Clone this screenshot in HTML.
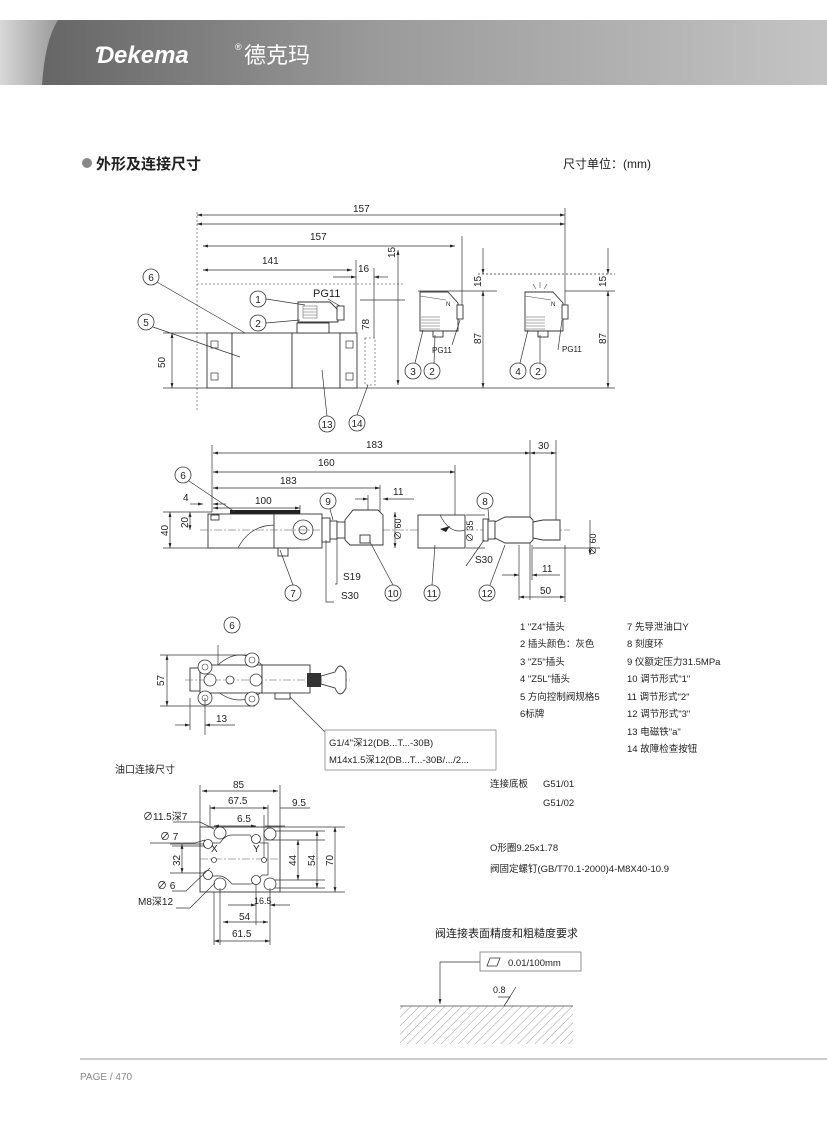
<!DOCTYPE html>
<html><head><meta charset="utf-8">
<style>
html,body{margin:0;padding:0;background:#fff;}
svg{display:block;}
text{font-family:"Liberation Sans","Noto Sans CJK SC",sans-serif;fill:#222;}
.d{stroke:#333;stroke-width:0.7;fill:none;}
.t{stroke:#222;stroke-width:1;fill:none;}
.f{stroke:#333;stroke-width:0.9;fill:#fff;}
.dash{stroke:#777;stroke-width:0.8;fill:none;stroke-dasharray:2,2;}
.c{stroke:#333;stroke-width:0.8;fill:#fff;}
</style></head><body>
<svg width="827" height="1122" viewBox="0 0 827 1122" xmlns="http://www.w3.org/2000/svg">
<defs>
<linearGradient id="hg" x1="0" x2="1" y1="0" y2="0">
<stop offset="0" stop-color="#5f5f5f"/><stop offset="0.45" stop-color="#9a9a9a"/><stop offset="1" stop-color="#c4c4c4"/>
</linearGradient>
<linearGradient id="hl" x1="0" x2="1"><stop offset="0" stop-color="#d8d8d8"/><stop offset="1" stop-color="#9a9a9a"/></linearGradient>
<marker id="a" viewBox="0 0 10 10" refX="10" refY="5" markerWidth="7" markerHeight="7" orient="auto-start-reverse"><path d="M0,2 L10,5 L0,8 z" fill="#222"/></marker>
<pattern id="hatch" width="6" height="6" patternUnits="userSpaceOnUse" patternTransform="rotate(45)"><line x1="0" y1="0" x2="0" y2="6" stroke="#555" stroke-width="0.6"/></pattern>
</defs>

<!-- header -->
<rect x="0" y="20" width="827" height="65" fill="url(#hg)"/>
<path d="M0,20 L58,20 Q45,40 42,85 L0,85 Z" fill="url(#hl)"/>
<text x="95" y="63" font-size="24" font-style="italic" font-weight="bold" fill="#fff" style="fill:#fff">Ɗekema</text>
<text x="235" y="50" font-size="9" style="fill:#fff">®</text>
<text x="244" y="63" font-size="22" style="fill:#fff">德克玛</text>

<!-- title -->
<circle cx="87" cy="163" r="5" fill="#888"/>
<text x="96" y="169" font-size="15" font-weight="bold">外形及连接尺寸</text>
<text x="563" y="168" font-size="12">尺寸单位：(mm)</text>

<!-- ===== top view ===== -->
<g font-size="10">
<line class="dash" x1="197" y1="212" x2="197" y2="410"/>
<line class="d" x1="197" y1="215" x2="565" y2="215" marker-start="url(#a)" marker-end="url(#a)"/>
<line class="d" x1="197" y1="224" x2="565" y2="224" marker-start="url(#a)" marker-end="url(#a)"/>
<text x="353" y="212">157</text>
<line class="d" x1="565" y1="208" x2="565" y2="310"/>
<line class="d" x1="203" y1="246" x2="455" y2="246" marker-start="url(#a)" marker-end="url(#a)"/>
<text x="310" y="240">157</text>
<line class="d" x1="462" y1="236" x2="462" y2="310"/>
<line class="d" x1="203" y1="270" x2="352" y2="270" marker-start="url(#a)" marker-end="url(#a)"/>
<text x="262" y="264">141</text>
<line class="d" x1="356" y1="260" x2="356" y2="340"/>
<line class="d" x1="374" y1="268" x2="374" y2="338"/>
<line class="d" x1="333" y1="277" x2="356" y2="277" marker-end="url(#a)"/>
<line class="d" x1="388" y1="277" x2="374" y2="277" marker-end="url(#a)"/>
<text x="358" y="272">16</text>
<line class="dash" x1="197" y1="284" x2="405" y2="284"/>
<line class="d" x1="360" y1="300" x2="405" y2="300"/>
<line class="d" x1="398" y1="250" x2="398" y2="385" marker-start="url(#a)" marker-end="url(#a)"/>
<text x="0" y="0" transform="translate(395,258) rotate(-90)">15</text>
<text x="0" y="0" transform="translate(369,330) rotate(-90)">78</text>
<!-- base line -->
<line class="d" x1="163" y1="388" x2="615" y2="388"/>
<!-- valve body -->
<rect class="f" x="207" y="333" width="25" height="55"/>
<rect x="211" y="341" width="7" height="7" class="d"/><rect x="211" y="373" width="7" height="7" class="d"/>
<rect class="f" x="232" y="333" width="60" height="55"/>
<rect class="f" x="292" y="333" width="48" height="55"/>
<rect class="f" x="340" y="333" width="17" height="55"/>
<rect x="346" y="341" width="7" height="7" class="d"/><rect x="346" y="373" width="7" height="7" class="d"/>
<rect class="f" x="297" y="323" width="32" height="10"/>
<path class="f" d="M298,302 L330,302 L338,310 L338,322 L298,322 Z"/>
<rect x="303" y="306" width="14" height="12" fill="none" stroke="#555" stroke-width="0.5"/>
<line x1="303" y1="309" x2="317" y2="309" stroke="#555" stroke-width="0.5"/><line x1="303" y1="312" x2="317" y2="312" stroke="#555" stroke-width="0.5"/><line x1="303" y1="315" x2="317" y2="315" stroke="#555" stroke-width="0.5"/>
<rect class="f" x="337" y="306" width="7" height="14"/>
<text x="313" y="297" font-size="11">PG11</text>
<line class="d" x1="328" y1="299" x2="340" y2="306"/>
<rect class="dash" x="365" y="338" width="10" height="47"/>
<line class="d" x1="172" y1="333" x2="172" y2="388" marker-start="url(#a)" marker-end="url(#a)"/>
<line class="d" x1="163" y1="333" x2="207" y2="333"/>
<text x="0" y="0" transform="translate(165,368) rotate(-90)">50</text>
<!-- connector 3 -->
<path class="f" d="M420,292 L448,292 L458,303 L458,331 L420,331 Z"/>
<line x1="420" y1="296" x2="446" y2="300" stroke="#444" stroke-width="0.6"/>
<g stroke="#555" stroke-width="0.5"><line x1="421" y1="317" x2="440" y2="317"/><line x1="421" y1="320" x2="440" y2="320"/><line x1="421" y1="323" x2="440" y2="323"/><line x1="421" y1="326" x2="440" y2="326"/><line x1="421" y1="329" x2="440" y2="329"/></g>
<rect class="f" x="433" y="331" width="10" height="6"/>
<rect class="f" x="457" y="305" width="6" height="14"/>
<text x="446" y="306" font-size="6">N</text>
<text x="432" y="353" font-size="8">PG11</text>
<line class="d" x1="460" y1="320" x2="452" y2="345"/>
<line class="d" x1="418" y1="291" x2="497" y2="291"/>
<line class="d" x1="478" y1="274" x2="615" y2="274" stroke-dasharray="2,2"/>
<line class="d" x1="483" y1="248" x2="483" y2="274" marker-end="url(#a)"/>
<line class="d" x1="483" y1="291" x2="483" y2="388" marker-start="url(#a)" marker-end="url(#a)"/>
<text x="0" y="0" transform="translate(481,287) rotate(-90)">15</text>
<text x="0" y="0" transform="translate(481,344) rotate(-90)">87</text>
<!-- connector 4 -->
<path class="f" d="M525,292 L553,292 L563,303 L563,331 L525,331 Z"/>
<line x1="525" y1="296" x2="551" y2="300" stroke="#444" stroke-width="0.6"/>
<g stroke="#555" stroke-width="0.5"><line x1="526" y1="317" x2="545" y2="317"/><line x1="526" y1="320" x2="545" y2="320"/><line x1="526" y1="323" x2="545" y2="323"/><line x1="526" y1="326" x2="545" y2="326"/><line x1="526" y1="329" x2="545" y2="329"/></g>
<rect class="f" x="538" y="331" width="10" height="6"/>
<rect class="f" x="562" y="305" width="6" height="14"/>
<text x="551" y="306" font-size="6">N</text>
<path d="M536,289 l-3,-5 M540,288 l0,-6 M544,289 l3,-5" stroke="#555" stroke-width="0.6"/>
<text x="562" y="352" font-size="8">PG11</text>
<line class="d" x1="558" y1="350" x2="562" y2="320"/>
<line class="d" x1="565" y1="291" x2="615" y2="291"/>
<line class="d" x1="608" y1="248" x2="608" y2="274" marker-end="url(#a)"/>
<line class="d" x1="608" y1="291" x2="608" y2="388" marker-start="url(#a)" marker-end="url(#a)"/>
<text x="0" y="0" transform="translate(606,287) rotate(-90)">15</text>
<text x="0" y="0" transform="translate(606,344) rotate(-90)">87</text>
<!-- leaders -->
<line class="d" x1="157" y1="282" x2="245" y2="333"/>
<line class="d" x1="153" y1="327" x2="240" y2="357"/>
<line class="d" x1="266" y1="299" x2="305" y2="305"/>
<line class="d" x1="266" y1="323" x2="300" y2="320"/>
<line class="d" x1="327" y1="416" x2="322" y2="370"/>
<line class="d" x1="357" y1="415" x2="368" y2="385"/>
<line class="d" x1="415" y1="363" x2="423" y2="330"/>
<line class="d" x1="434" y1="363" x2="435" y2="335"/>
<line class="d" x1="520" y1="363" x2="528" y2="330"/>
<line class="d" x1="540" y1="363" x2="540" y2="335"/>
<g font-size="10" text-anchor="middle">
<circle class="c" cx="151" cy="277" r="8"/><text x="151" y="281">6</text>
<circle class="c" cx="146" cy="322" r="8"/><text x="146" y="326">5</text>
<circle class="c" cx="258" cy="299" r="8"/><text x="258" y="303">1</text>
<circle class="c" cx="258" cy="323" r="8"/><text x="258" y="327">2</text>
<circle class="c" cx="327" cy="424" r="8"/><text x="327" y="428">13</text>
<circle class="c" cx="357" cy="423" r="8"/><text x="357" y="427">14</text>
<circle class="c" cx="413" cy="371" r="8"/><text x="413" y="375">3</text>
<circle class="c" cx="432" cy="371" r="8"/><text x="432" y="375">2</text>
<circle class="c" cx="518" cy="371" r="8"/><text x="518" y="375">4</text>
<circle class="c" cx="538" cy="371" r="8"/><text x="538" y="375">2</text>
</g>
</g>

<!-- ===== side view ===== -->
<g font-size="10">
<line class="d" x1="212" y1="445" x2="212" y2="512"/>
<line class="d" x1="213" y1="453" x2="530" y2="453" marker-start="url(#a)" marker-end="url(#a)"/>
<text x="366" y="448">183</text>
<line class="d" x1="530" y1="440" x2="530" y2="600"/>
<line class="d" x1="556" y1="440" x2="556" y2="540"/>
<line class="d" x1="530" y1="453" x2="556" y2="453" marker-start="url(#a)" marker-end="url(#a)"/>
<text x="538" y="449">30</text>
<line class="d" x1="213" y1="472" x2="455" y2="472" marker-start="url(#a)" marker-end="url(#a)"/>
<text x="318" y="466">160</text>
<line class="d" x1="455" y1="465" x2="455" y2="515"/>
<line class="d" x1="213" y1="488" x2="380" y2="488" marker-start="url(#a)" marker-end="url(#a)"/>
<text x="280" y="484">183</text>
<line class="d" x1="380" y1="485" x2="380" y2="512"/>
<line class="d" x1="355" y1="499" x2="368" y2="499" marker-end="url(#a)"/>
<line class="d" x1="414" y1="499" x2="383" y2="499" marker-end="url(#a)"/>
<line class="d" x1="368" y1="495" x2="368" y2="512"/>
<text x="393" y="495">11</text>
<text x="183" y="501">4</text>
<line class="d" x1="190" y1="504" x2="203" y2="504" marker-end="url(#a)"/>
<line class="d" x1="226" y1="504" x2="213" y2="504" marker-end="url(#a)"/>
<line class="d" x1="213" y1="508" x2="300" y2="508" marker-start="url(#a)" marker-end="url(#a)"/>
<text x="255" y="504">100</text>
<line class="d" x1="300" y1="505" x2="300" y2="520"/>
<line class="d" x1="163" y1="512" x2="212" y2="512"/>
<line class="d" x1="163" y1="548" x2="212" y2="548"/>
<line class="d" x1="170" y1="512" x2="170" y2="548" marker-start="url(#a)" marker-end="url(#a)"/>
<text x="0" y="0" transform="translate(168,536) rotate(-90)">40</text>
<line class="d" x1="190" y1="512" x2="190" y2="530" marker-start="url(#a)" marker-end="url(#a)"/>
<text x="0" y="0" transform="translate(188,528) rotate(-90)">20</text>
<!-- body -->
<rect class="f" x="208" y="514" width="92" height="34"/>
<rect x="230" y="510" width="70" height="4" fill="#222"/>
<rect class="f" x="211" y="515" width="8" height="5"/>
<path class="d" d="M238,548 Q250,525 275,525"/>
<rect class="f" x="274" y="514" width="48" height="34"/>
<circle class="c" cx="303" cy="530" r="10"/><circle class="c" cx="303" cy="530" r="4"/>
<rect class="f" x="278" y="548" width="10" height="8"/>
<line x1="200" y1="530" x2="570" y2="530" stroke="#555" stroke-width="0.5" stroke-dasharray="8,2,2,2"/>
<rect class="f" x="322" y="518" width="8" height="24"/><rect class="f" x="330" y="521" width="7" height="18"/><rect class="f" x="337" y="522" width="8" height="16"/>
<path class="f" d="M345,520 L353,510 L378,510 L383,515 L383,545 L350,545 L345,540 Z"/>
<rect class="f" x="360" y="535" width="10" height="8"/>
<line class="d" x1="395" y1="512" x2="395" y2="548" marker-start="url(#a)" marker-end="url(#a)"/>
<text x="0" y="0" transform="translate(401,540) rotate(-90)" font-size="9">∅ 60</text>
<!-- 11 -->
<rect class="f" x="418" y="515" width="47" height="33"/>
<path class="d" d="M440,515 Q450,535 465,530"/>
<path d="M440,529 l10,-3 l-4,6 z" fill="#222"/>
<text x="0" y="0" transform="translate(473,542) rotate(-90)" font-size="9">∅ 35</text>
<line class="d" x1="466" y1="515" x2="485" y2="515"/><line class="d" x1="466" y1="548" x2="485" y2="548"/>
<!-- 12 -->
<rect class="f" x="483" y="519" width="5" height="22"/><rect class="f" x="488" y="521" width="7" height="18"/>
<path class="f" d="M495,522 L505,517 L530,517 L533,520 L533,540 L530,543 L505,543 L495,538 Z"/>
<path class="f" d="M533,522 L543,520 L560,520 L560,540 L543,540 L533,538 Z"/>
<line class="d" x1="533" y1="548" x2="600" y2="548"/>
<line class="d" x1="590" y1="520" x2="590" y2="555" marker-end="url(#a)"/>
<text x="0" y="0" transform="translate(596,555) rotate(-90)" font-size="9">∅ 60</text>
<line class="d" x1="519" y1="545" x2="519" y2="600"/>
<line class="d" x1="502" y1="575" x2="519" y2="575" marker-end="url(#a)"/>
<line class="d" x1="560" y1="575" x2="532" y2="575" marker-end="url(#a)"/>
<line class="d" x1="532" y1="545" x2="532" y2="580"/>
<text x="542" y="572">11</text>
<line class="d" x1="519" y1="597" x2="565" y2="597" marker-start="url(#a)" marker-end="url(#a)"/>
<line class="d" x1="565" y1="545" x2="565" y2="602"/>
<text x="540" y="594">50</text>
<text x="343" y="580">S19</text>
<text x="341" y="599">S30</text>
<text x="475" y="563">S30</text>
<polyline class="d" points="335,584 337,584 337,538"/>
<polyline class="d" points="334,602 326,602 326,540"/>
<polyline class="d" points="466,566 484,540"/>
<line class="d" x1="189" y1="481" x2="235" y2="512"/>
<line class="d" x1="293" y1="585" x2="280" y2="550"/>
<line class="d" x1="393" y1="585" x2="370" y2="542"/>
<line class="d" x1="432" y1="585" x2="435" y2="545"/>
<line class="d" x1="490" y1="585" x2="505" y2="545"/>
<line class="d" x1="330" y1="509" x2="333" y2="520"/>
<line class="d" x1="488" y1="509" x2="489" y2="520"/>
<g text-anchor="middle">
<circle class="c" cx="183" cy="475" r="8"/><text x="183" y="479">6</text>
<circle class="c" cx="328" cy="501" r="8"/><text x="328" y="505">9</text>
<circle class="c" cx="485" cy="501" r="8"/><text x="485" y="505">8</text>
<circle class="c" cx="293" cy="593" r="8"/><text x="293" y="597">7</text>
<circle class="c" cx="393" cy="593" r="8"/><text x="393" y="597">10</text>
<circle class="c" cx="432" cy="593" r="8"/><text x="432" y="597">11</text>
<circle class="c" cx="487" cy="593" r="8"/><text x="487" y="597">12</text>
</g>
</g>

<!-- ===== front view ===== -->
<g font-size="10">
<g text-anchor="middle"><circle class="c" cx="232" cy="625" r="8"/><text x="232" y="629">6</text></g>
<line class="d" x1="218" y1="645" x2="218" y2="670"/>
<line class="d" x1="160" y1="655" x2="255" y2="655"/>
<line class="d" x1="160" y1="706" x2="255" y2="706"/>
<line class="d" x1="167" y1="655" x2="167" y2="706" marker-start="url(#a)" marker-end="url(#a)"/>
<text x="0" y="0" transform="translate(164,686) rotate(-90)">57</text>
<path class="d" d="M218,665 Q240,645 262,665"/>
<path class="d" d="M218,692 Q240,708 262,692"/>
<rect class="f" x="190" y="668" width="10" height="23"/>
<rect class="f" x="200" y="665" width="62" height="28"/>
<rect class="f" x="262" y="665" width="48" height="28"/>
<rect class="f" x="275" y="693" width="15" height="6"/>
<line x1="185" y1="680" x2="350" y2="680" stroke="#555" stroke-width="0.5" stroke-dasharray="8,2,2,2"/>
<g class="c"><circle cx="205" cy="667" r="7"/><circle cx="252" cy="660" r="7"/><circle cx="205" cy="698" r="7"/><circle cx="252" cy="699" r="7"/><circle cx="210" cy="680" r="6"/><circle cx="230" cy="680" r="4"/><circle cx="256" cy="680" r="6"/></g>
<g fill="none" stroke="#444" stroke-width="0.6"><circle cx="205" cy="667" r="3"/><circle cx="252" cy="660" r="3"/><circle cx="205" cy="698" r="3"/><circle cx="252" cy="699" r="3"/></g>
<rect x="307" y="673" width="14" height="14" fill="#333"/>
<path class="f" d="M321,676 L335,672 Q340,660 346,672 L346,688 Q340,700 335,688 L321,684 Z"/>
<line class="d" x1="175" y1="725" x2="190" y2="725" marker-end="url(#a)"/>
<line class="d" x1="235" y1="725" x2="205" y2="725" marker-end="url(#a)"/>
<line class="d" x1="190" y1="698" x2="190" y2="730"/><line class="d" x1="205" y1="698" x2="205" y2="735"/>
<text x="216" y="722">13</text>
<line class="d" x1="290" y1="697" x2="325" y2="732"/>
<rect x="325" y="730" width="171" height="40" fill="#fff" stroke="#777" stroke-width="0.7"/>
<text x="329" y="746" font-size="9.5">G1/4"深12(DB...T...-30B)</text>
<text x="329" y="763" font-size="9.5">M14x1.5深12(DB...T...-30B/.../2...</text>
<text x="115" y="773" font-size="10">油口连接尺寸</text>
</g>

<!-- port plate -->
<g font-size="10">
<rect class="f" x="200" y="827" width="80" height="65"/>
<line class="d" x1="200" y1="785" x2="200" y2="827"/><line class="d" x1="280" y1="785" x2="280" y2="827"/>
<line class="d" x1="202" y1="791" x2="278" y2="791" marker-start="url(#a)" marker-end="url(#a)"/>
<text x="233" y="788">85</text>
<line class="d" x1="210" y1="808" x2="268" y2="808" marker-start="url(#a)" marker-end="url(#a)"/>
<line class="d" x1="210" y1="805" x2="210" y2="827"/><line class="d" x1="268" y1="805" x2="268" y2="832"/>
<text x="228" y="804">67.5</text>
<line class="d" x1="280" y1="808" x2="310" y2="808"/>
<text x="292" y="806">9.5</text>
<line class="d" x1="214" y1="826" x2="256" y2="826" marker-start="url(#a)" marker-end="url(#a)"/>
<line class="d" x1="265" y1="826" x2="285" y2="826"/>
<line class="d" x1="264" y1="815" x2="264" y2="860"/>
<text x="237" y="822">6.5</text>
<line class="d" x1="280" y1="827" x2="345" y2="827"/>
<line class="d" x1="280" y1="892" x2="345" y2="892"/>
<line class="d" x1="265" y1="840" x2="325" y2="840"/>
<line class="d" x1="265" y1="880" x2="325" y2="880"/>
<line class="d" x1="298" y1="840" x2="298" y2="880" marker-start="url(#a)" marker-end="url(#a)"/>
<line class="d" x1="317" y1="831" x2="317" y2="888" marker-start="url(#a)" marker-end="url(#a)"/>
<line class="d" x1="335" y1="827" x2="335" y2="892" marker-start="url(#a)" marker-end="url(#a)"/>
<line class="d" x1="270" y1="831" x2="325" y2="831"/><line class="d" x1="270" y1="888" x2="325" y2="888"/>
<text x="0" y="0" transform="translate(296,866) rotate(-90)">44</text>
<text x="0" y="0" transform="translate(315,866) rotate(-90)">54</text>
<text x="0" y="0" transform="translate(333,866) rotate(-90)">70</text>
<line class="d" x1="170" y1="844" x2="210" y2="844"/><line class="d" x1="170" y1="873" x2="210" y2="873"/>
<line class="d" x1="182" y1="844" x2="182" y2="873" marker-start="url(#a)" marker-end="url(#a)"/>
<text x="0" y="0" transform="translate(180,866) rotate(-90)">32</text>
<path class="d" d="M205,843 L220,843 Q225,835 232,835 L250,835 Q255,843 262,843 L268,843 L268,875 L262,875 Q255,884 250,884 L232,884 Q225,876 220,876 L205,876"/>
<line x1="200" y1="859" x2="280" y2="859" stroke="#555" stroke-width="0.5" stroke-dasharray="8,2,2,2"/>
<g class="c"><circle cx="220" cy="833" r="6"/><circle cx="270" cy="834" r="6"/><circle cx="220" cy="884" r="6"/><circle cx="270" cy="884" r="6"/><circle cx="208" cy="844" r="4.5"/><circle cx="256" cy="839" r="4.5"/><circle cx="208" cy="875" r="4.5"/><circle cx="256" cy="880" r="4.5"/><circle cx="214" cy="860" r="2.5"/><circle cx="264" cy="860" r="2.5"/></g>
<text x="211" y="852" font-size="10">X</text><text x="253" y="852" font-size="10">Y</text>
<text x="143" y="820" font-size="10">∅11.5深7</text>
<text x="160" y="840" font-size="10">∅ 7</text>
<text x="157" y="889" font-size="10">∅ 6</text>
<text x="138" y="905" font-size="10">M8深12</text>
<polyline class="d" points="173,822 200,822 214,829"/>
<polyline class="d" points="150,843 195,843 205,840"/>
<line class="d" x1="172" y1="846" x2="205" y2="846"/>
<polyline class="d" points="172,891 186,891 210,868"/>
<polyline class="d" points="176,908 190,908 215,883"/>
<line class="d" x1="220" y1="888" x2="220" y2="945"/>
<line class="d" x1="270" y1="888" x2="270" y2="945"/>
<line class="d" x1="256" y1="884" x2="256" y2="925"/>
<line class="d" x1="228" y1="905" x2="256" y2="905" marker-end="url(#a)"/>
<line class="d" x1="290" y1="905" x2="270" y2="905" marker-end="url(#a)"/>
<text x="254" y="904" font-size="9">16.5</text>
<line class="d" x1="223" y1="922" x2="268" y2="922" marker-start="url(#a)" marker-end="url(#a)"/>
<text x="239" y="920">54</text>
<line class="d" x1="214" y1="941" x2="270" y2="941" marker-start="url(#a)" marker-end="url(#a)"/>
<line class="d" x1="214" y1="892" x2="214" y2="945"/>
<text x="232" y="937">61.5</text>
</g>

<!-- legend -->
<g font-size="9.5">
<text x="520" y="630">1 "Z4"插头</text>
<text x="520" y="647">2 插头颜色：灰色</text>
<text x="520" y="665">3 "Z5"插头</text>
<text x="520" y="682">4 "Z5L"插头</text>
<text x="520" y="700">5 方向控制阀规格5</text>
<text x="520" y="717">6标牌</text>
<text x="627" y="630">7 先导泄油口Y</text>
<text x="627" y="647">8 刻度环</text>
<text x="627" y="665">9 仪额定压力31.5MPa</text>
<text x="627" y="682">10 调节形式"1"</text>
<text x="627" y="700">11 调节形式"2"</text>
<text x="627" y="717">12 调节形式"3"</text>
<text x="627" y="735">13 电磁铁"a"</text>
<text x="627" y="752">14 故障检查按钮</text>
<text x="490" y="787">连接底板</text><text x="543" y="787">G51/01</text>
<text x="543" y="806">G51/02</text>
<text x="490" y="851">O形圈9.25x1.78</text>
<text x="490" y="872">阀固定螺钉(GB/T70.1-2000)4-M8X40-10.9</text>
</g>

<!-- surface -->
<text x="435" y="937" font-size="11">阀连接表面精度和粗糙度要求</text>
<rect x="480" y="952" width="101" height="19" fill="#fff" stroke="#777" stroke-width="0.8"/>
<path d="M487,966 l3,-8 h10 l-3,8 z" fill="none" stroke="#333" stroke-width="0.8"/>
<text x="508" y="966" font-size="9.5">0.01/100mm</text>
<polyline class="d" points="480,962 440,962 440,1004" marker-end="url(#a)"/>
<rect x="400" y="1006" width="173" height="38" fill="url(#hatch)"/>
<line x1="400" y1="1006" x2="573" y2="1006" stroke="#444" stroke-width="0.8"/>
<text x="493" y="993" font-size="9">0.8</text>
<path d="M498,997 L510,997 L504,1006 L516,987" fill="none" stroke="#333" stroke-width="0.7"/>

<!-- footer -->
<line x1="80" y1="1059" x2="827" y2="1059" stroke="#999" stroke-width="1"/>
<text x="80" y="1080" font-size="10" style="fill:#888">PAGE / 470</text>
</svg>
</body></html>
